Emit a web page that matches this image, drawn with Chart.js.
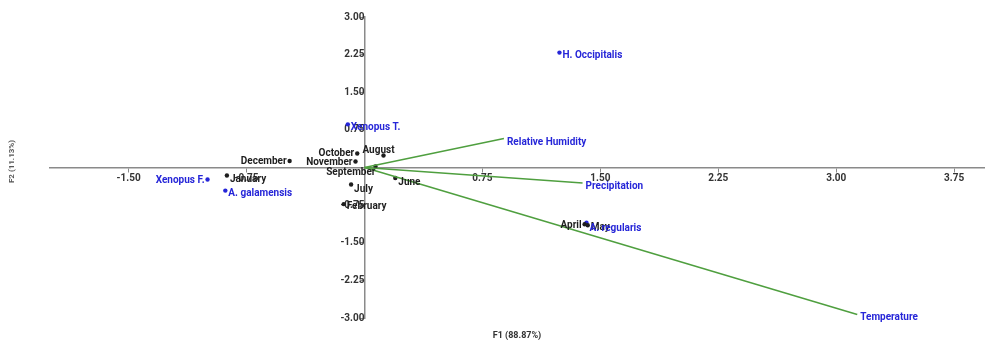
<!DOCTYPE html>
<html>
<head>
<meta charset="utf-8">
<script src="https://cdn.jsdelivr.net/npm/chart.js@4/dist/chart.umd.min.js"></script>
<style>
  html, body { margin: 0; padding: 0; background: #fff; }
  #wrap { width: 988px; height: 345px; }
</style>
</head>
<body>
<div id="wrap"><canvas id="c" width="988" height="345"></canvas></div>
<script>
// ---------- DATA ----------
const monthNames = ["October", "August", "December", "November", "January", "July", "February", "September", "June", "April", "May"];
const monthF1 = [-0.046, 0.121, -0.476, -0.057, -0.875, -0.085, -0.132, 0.070, 0.196, 1.400, 1.420];
const monthF2 = [0.28, 0.24, 0.13, 0.12, -0.16, -0.34, -0.73, 0.02, -0.21, -1.13, -1.15];

const speciesNames = ["H. Occipitalis", "Xenopus T.", "Xenopus F.", "A. galamensis", "A. regularis"];
const speciesF1 = [1.240, -0.106, -0.998, -0.885, 1.412];
const speciesF2 = [2.29, 0.86, -0.24, -0.46, -1.10];

const variableNames = ["Relative Humidity", "Precipitation", "Temperature"];
const variableF1 = [0.887, 1.387, 3.134];
const variableF2 = [0.58, -0.31, -2.93];

const xTickValues = [-1.50, -0.75, 0.75, 1.50, 2.25, 3.00, 3.75];
const yTickValues = [-3.00, -2.25, -1.50, -0.75, 0.75, 1.50, 2.25, 3.00];
const xTitle = "F1 (88.87%)";
const yTitle = "F2 (11.13%)";

// ---------- STYLE / LAYOUT ----------
const FONT = "Roboto, 'DejaVu Sans', sans-serif";
const BLACK = "#1e1e1e";
const BLUE = "#2626d8";
const GREEN = "#4f9f3f";
const AXIS = "#8a8a8a";

// label placement: side and small pixel nudges
const placement = {
  "October": {side: "left", dy: 0},
  "August": {side: "top", dx: -5, dy: -5},
  "December": {side: "left", dy: 1},
  "November": {side: "left", dy: 1},
  "January": {side: "right", dy: 4},
  "July": {side: "right", dy: 5},
  "February": {side: "right", dy: 2},
  "September": {side: "bottomleft", dy: 6},
  "June": {side: "right", dy: 4},
  "April": {side: "left", dy: 1},
  "May": {side: "right", dy: 2},
  "H. Occipitalis": {side: "right", dy: 3},
  "Xenopus T.": {side: "right", dy: 3},
  "Xenopus F.": {side: "left", dy: 1},
  "A. galamensis": {side: "right", dy: 3},
  "A. regularis": {side: "right", dy: 6},
  "Relative Humidity": {side: "right", dy: 4},
  "Precipitation": {side: "right", dy: 3},
  "Temperature": {side: "right", dy: 3}
};

const toPts = (xs, ys) => xs.map((v, i) => ({x: v, y: ys[i]}));

const datasets = [];
variableNames.forEach((n, i) => {
  datasets.push({
    label: n,
    data: [{x: 0, y: 0}, {x: variableF1[i], y: variableF2[i]}],
    showLine: true,
    borderColor: GREEN,
    borderWidth: 1.5,
    pointRadius: 0,
    pointHoverRadius: 0,
    kind: "variable",
    names: [null, n],
    textColor: BLUE
  });
});
datasets.push({
  label: "Months",
  data: toPts(monthF1, monthF2),
  pointRadius: 2.2,
  pointBackgroundColor: BLACK,
  pointBorderWidth: 0,
  kind: "obs",
  names: monthNames,
  textColor: BLACK
});
datasets.push({
  label: "Species",
  data: toPts(speciesF1, speciesF2),
  pointRadius: 2.2,
  pointBackgroundColor: BLUE,
  pointBorderWidth: 0,
  kind: "obs",
  names: speciesNames,
  textColor: BLUE
});

const labelPlugin = {
  id: "labels",
  afterDatasetsDraw(chart) {
    const ctx = chart.ctx;
    ctx.save();
    ctx.font = "bold 10px " + FONT;
    ctx.textBaseline = "middle";
    chart.data.datasets.forEach((ds, di) => {
      const meta = chart.getDatasetMeta(di);
      meta.data.forEach((el, i) => {
        const name = ds.names[i];
        if (!name) return;
        const p = placement[name] || {side: "right", dy: 3};
        let x = el.x, y = el.y + (p.dy || 0);
        ctx.fillStyle = ds.textColor;
        if (p.side === "left") { ctx.textAlign = "right"; x -= 3; }
        else if (p.side === "top") { ctx.textAlign = "center"; x += (p.dx || 0); }
        else if (p.side === "bottomleft") { ctx.textAlign = "right"; }
        else { ctx.textAlign = "left"; x += 3; }
        ctx.fillText(name, x, y);
      });
    });
    ctx.restore();
  }
};

const titlePlugin = {
  id: "titles",
  afterDraw(chart) {
    const ctx = chart.ctx;
    const a = chart.chartArea;
    ctx.save();
    ctx.fillStyle = "#333";
    ctx.font = "bold 9px " + FONT;
    ctx.textAlign = "center";
    ctx.textBaseline = "middle";
    ctx.fillText(xTitle, (a.left + a.right) / 2, 336);
    ctx.translate(12, (a.top + a.bottom) / 2 - 6);
    ctx.rotate(-Math.PI / 2);
    ctx.font = "bold 8px " + FONT;
    ctx.fillStyle = "#555";
    ctx.fillText(yTitle, 0, 0);
    ctx.restore();
  }
};

new Chart(document.getElementById("c"), {
  type: "scatter",
  data: {datasets},
  options: {
    responsive: false,
    animation: false,
    events: [],
    layout: {padding: {left: 50, right: 0, top: 17, bottom: 27}},
    plugins: {legend: {display: false}, tooltip: {enabled: false}},
    scales: {
      x: {
        type: "linear",
        min: -2.0,
        max: 3.94,
        position: {y: 0},
        afterBuildTicks: s => { s.ticks = xTickValues.map(v => ({value: v})); },
        grid: {drawOnChartArea: false, drawTicks: true, tickLength: 4, color: AXIS, lineWidth: 1},
        border: {display: true, color: AXIS, width: 1.5},
        ticks: {
          padding: 1,
          color: "#333",
          font: {family: FONT, size: 10, weight: "bold"},
          maxRotation: 0,
          autoSkip: false,
          callback: v => v.toFixed(2)
        }
      },
      y: {
        type: "linear",
        min: -3,
        max: 3,
        position: {x: 0},
        afterBuildTicks: s => { s.ticks = yTickValues.map(v => ({value: v})); },
        grid: {drawOnChartArea: false, drawTicks: true, tickLength: 4, color: AXIS, lineWidth: 1},
        border: {display: true, color: AXIS, width: 1.5},
        ticks: {
          padding: 2,
          color: "#333",
          font: {family: FONT, size: 10, weight: "bold"},
          autoSkip: false,
          callback: v => v.toFixed(2)
        }
      }
    }
  },
  plugins: [labelPlugin, titlePlugin]
});
</script>
</body>
</html>
